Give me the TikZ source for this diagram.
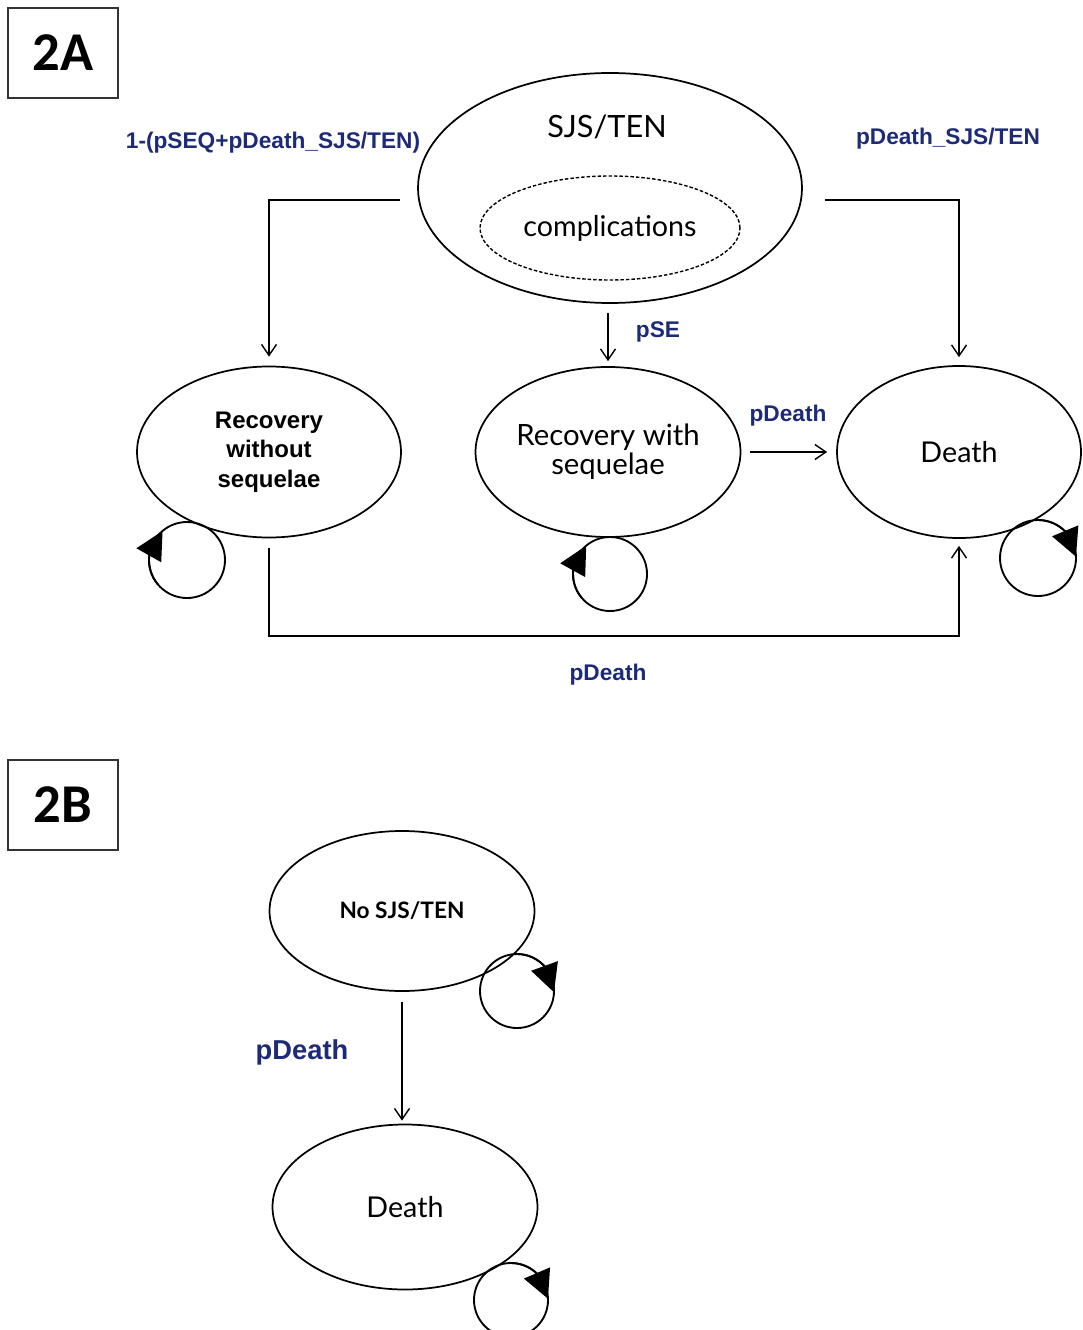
\documentclass[tikz,border=0pt]{standalone}
\usepackage{fontspec}
\usetikzlibrary{shapes.geometric,arrows.meta,bending}
\newfontfamily\gillf{Lato}
\newfontfamily\arialf{Liberation Sans}
\newfontfamily\calibf{Carlito}
\definecolor{lblblue}{RGB}{28,42,120}
\tikzset{
  stateell/.style={draw, ellipse, line width=1.3pt, inner sep=0pt, align=center},
  conn/.style={line width=1.05pt, -{Straight Barb[length=8.25pt,width=11.25pt,line width=1.05pt]}},
  loopline/.style={line width=1.4pt},
  looptip/.style={line width=1.4pt, -{Triangle[length=21pt,width=21pt,flex]}},
  plbl/.style={text=lblblue, font=\arialf\bfseries\fontsize{17}{20}\selectfont, inner sep=0pt},
  tagbox/.style={draw=black!80, line width=1.2pt, minimum width=82.5pt, minimum height=67.5pt, inner sep=0pt, font=\calibf\bfseries\fontsize{41}{45}\selectfont},
}
\begin{document}
\begin{tikzpicture}[x=0.75pt,y=-0.75pt]
\path[use as bounding box, fill=white] (0,0) rectangle (1082,1330);

% ---------- 2A ----------
\node[tagbox] (boxA) at (63,53) {2A};

\node[stateell, minimum width=288pt, minimum height=172.5pt] (sjs) at (610,188) {};
\node[inner sep=0pt, font=\gillf\fontsize{23}{26}\selectfont] (sjstxt) at (607,127) {SJS/TEN};
\node[stateell, dashed, dash pattern=on 2.6pt off 1.5pt, line width=1.05pt, minimum width=195pt, minimum height=78pt, font=\gillf\fontsize{21.5}{24}\selectfont] (comp) at (610,228) {complications};

\node[stateell, minimum width=198pt, minimum height=128.25pt, font=\arialf\bfseries\fontsize{18}{22}\selectfont] (rwo) at (269,452) {Recovery\\without\\sequelae};
\node[stateell, minimum width=198.75pt, minimum height=127.5pt, font=\gillf\fontsize{22}{22}\selectfont] (rws) at (608,452) {Recovery with\\sequelae};
\node[stateell, minimum width=183pt, minimum height=129pt, font=\gillf\fontsize{21.5}{24}\selectfont] (death) at (959,452) {Death};

\coordinate (s1) at (400,200);
\coordinate (s2) at (825,200);
\coordinate (botc) at (600,636);

\draw[conn, shorten >=6.75pt] (s1) -| (rwo.north);
\draw[conn, shorten >=6pt] (s2) -| (death.north);
\draw[conn, shorten <=6.75pt, shorten >=3.75pt] (sjs.south -| rws.north) -- (rws.north);
\draw[conn, shorten <=6.75pt, shorten >=6.75pt] (rws.east) -- (death.west);
\draw[conn, shorten <=7.5pt, shorten >=5.25pt] (rwo.south) |- (botc) -| (death.south);

\node[plbl] (l1) at (273,143) {1-(pSEQ+pDeath\_SJS/TEN)};
\node[plbl] (l2) at (948,139) {pDeath\_SJS/TEN};
\node[plbl] (l3) at (658,332) {pSE};
\node[plbl] (l4) at (788,416) {pDeath};
\node[plbl] (l5) at (608,675) {pDeath};

% self loops 2A
\coordinate (c1) at (187,560);
\draw[loopline] (c1) circle[radius=38];
\draw[looptip] (c1) ++(140:38) arc[start angle=140, end angle=230, radius=38];

\coordinate (c2) at (610,574);
\draw[loopline] (c2) circle[radius=37];
\draw[looptip] (c2) ++(140:37) arc[start angle=140, end angle=230, radius=37];

\coordinate (c3) at (1038,558);
\draw[loopline] (c3) circle[radius=38];
\draw[looptip] (c3) ++(270:38) arc[start angle=270, end angle=358, radius=38];

% ---------- 2B ----------
\node[tagbox] (boxB) at (63,805) {2B};

\node[stateell, minimum width=198.75pt, minimum height=120pt, font=\gillf\bfseries\fontsize{17}{20}\selectfont] (nosjs) at (402,911) {No SJS/TEN};
\node[stateell, minimum width=198.75pt, minimum height=123.75pt, font=\gillf\fontsize{21.5}{24}\selectfont] (death2) at (405,1207) {Death};

\draw[conn, shorten <=7.5pt, shorten >=2.25pt] (nosjs.south) -- (nosjs.south |- death2.north);
\node[plbl, font=\arialf\bfseries\fontsize{20.5}{24}\selectfont] (l6) at (302,1052) {pDeath};

\coordinate (c4) at (517,991);
\draw[loopline] (c4) circle[radius=37];
\draw[looptip] (c4) ++(270:37) arc[start angle=270, end angle=362, radius=37];

\coordinate (c5) at (511,1300);
\draw[loopline] (c5) circle[radius=37];
\draw[looptip] (c5) ++(270:37) arc[start angle=270, end angle=358, radius=37];
\end{tikzpicture}
\end{document}
